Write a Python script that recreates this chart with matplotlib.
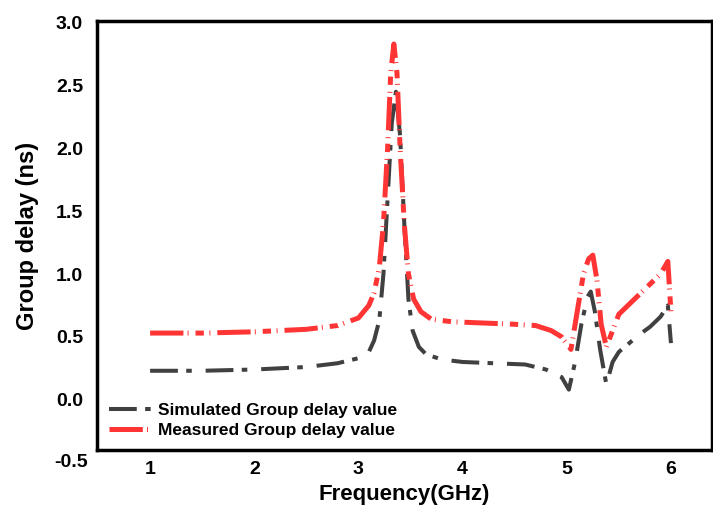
import matplotlib
matplotlib.use("Agg")
import matplotlib.pyplot as plt

plt.rcParams['font.family'] = ['Liberation Sans', 'DejaVu Sans']
plt.rcParams['lines.scale_dashes'] = False

sim_f = [1.0, 1.5, 2.0, 2.5, 2.8, 3.0, 3.1, 3.15, 3.2, 3.24, 3.28, 3.32, 3.36, 3.40, 3.44,
         3.48, 3.52, 3.58, 3.65, 3.8, 4.0, 4.3, 4.6, 4.8, 4.95, 5.02, 5.08, 5.14, 5.2, 5.23,
         5.27, 5.32, 5.38, 5.44, 5.5, 5.6, 5.7, 5.8, 5.9, 5.97, 6.0]
sim_v = [0.23, 0.23, 0.24, 0.26, 0.29, 0.33, 0.38, 0.47, 0.63, 1.0, 1.6, 2.2, 2.45, 2.1, 1.4,
         0.8, 0.55, 0.42, 0.36, 0.32, 0.30, 0.29, 0.28, 0.24, 0.18, 0.08, 0.30, 0.60, 0.82, 0.86,
         0.70, 0.40, 0.12, 0.30, 0.38, 0.45, 0.52, 0.58, 0.66, 0.75, 0.45]

meas_f = [1.0, 1.5, 2.0, 2.5, 2.8, 3.0, 3.1, 3.15, 3.2, 3.24, 3.28, 3.31, 3.34, 3.37, 3.40,
          3.44, 3.48, 3.53, 3.6, 3.7, 3.9, 4.2, 4.5, 4.7, 4.85, 4.95, 5.04, 5.1, 5.16, 5.21,
          5.25, 5.29, 5.33, 5.38, 5.44, 5.5, 5.6, 5.7, 5.8, 5.9, 5.97, 6.0]
meas_v = [0.53, 0.53, 0.54, 0.56, 0.59, 0.65, 0.75, 0.85, 1.05, 1.4, 2.0, 2.6, 2.83, 2.6, 2.0,
          1.4, 1.0, 0.8, 0.7, 0.64, 0.62, 0.61, 0.60, 0.59, 0.55, 0.50, 0.40, 0.70, 1.0, 1.12,
          1.15, 0.95, 0.60, 0.42, 0.55, 0.68, 0.76, 0.84, 0.92, 1.0, 1.1, 0.70]

x_ticks = [1, 2, 3, 4, 5, 6]
y_ticks = [0.0, 0.5, 1.0, 1.5, 2.0, 2.5, 3.0]

fig = plt.figure(figsize=(7.13, 5.09), dpi=100)
ax = fig.add_axes([0.136, 0.116, 0.862, 0.842])

ax.plot(sim_f, sim_v, color='#404040', lw=2.9, dashes=[20, 6, 4, 10],
        label='Simulated Group delay value')
ax.plot(meas_f, meas_v, color='#FF3535', lw=3.6, dashes=[24, 3, 0.7, 5, 6, 4, 0.7, 5],
        label='Measured Group delay value')

ax.set_xlim(0.49, 6.39)
ax.set_ylim(-0.4, 3.01)
ax.set_xticks(x_ticks)
ax.set_xticklabels([str(t) for t in x_ticks])
ax.set_yticks(y_ticks)
ax.set_yticklabels([f"{t:.1f}" for t in y_ticks])
ax.text(-0.015, -0.5, "-0.5", transform=ax.get_yaxis_transform(), ha='right', va='center',
        fontsize=14, fontweight='bold', clip_on=False)
ax.tick_params(length=0, labelsize=14)
ax.tick_params(axis='y', pad=10)
ax.tick_params(axis='x', pad=8)
for lab in ax.get_xticklabels() + ax.get_yticklabels():
    lab.set_fontweight('bold')

for s in ax.spines.values():
    s.set_linewidth(2.5)
    s.set_color('black')

ax.set_xlabel('Frequency(GHz)', fontsize=16, fontweight='bold', labelpad=4)
ax.set_ylabel('Group delay (ns)', fontsize=17, fontweight='bold', labelpad=12)

leg = ax.legend(loc='lower left', bbox_to_anchor=(0.0, 0.0), frameon=False,
                prop={'weight': 'bold', 'size': 12.5}, handlelength=2.4,
                handletextpad=0.4, labelspacing=0.25, borderaxespad=0.3)

fig.savefig('out.png', dpi=100)
